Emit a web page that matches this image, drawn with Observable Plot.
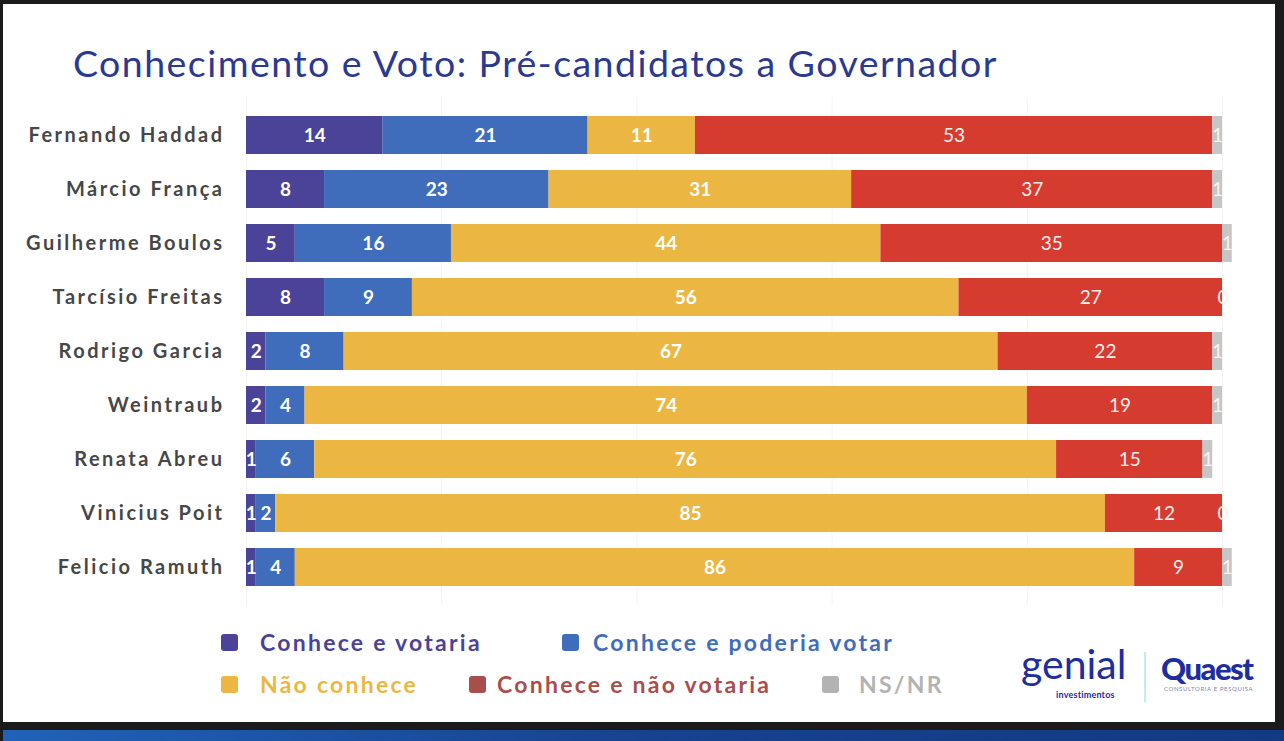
<!DOCTYPE html>
<html lang="pt-BR">
<head>
<meta charset="utf-8">
<title>Conhecimento e Voto: Pré-candidatos a Governador</title>
<script src="https://cdn.jsdelivr.net/npm/d3@7"></script>
<script src="https://cdn.jsdelivr.net/npm/@observablehq/plot@0.6"></script>
<style>
  html, body { margin: 0; padding: 0; }
  body { width: 1284px; height: 741px; background: #1b1b1b; position: relative; overflow: hidden; font-family: Lato, "Noto Sans", sans-serif; }
  .slide { position: absolute; left: 3px; top: 4px; width: 1272px; height: 718px; background: #ffffff; }
  .strip { position: absolute; left: 3px; top: 730px; width: 1281px; height: 11px; background: linear-gradient(90deg, #2062b8, #17428f 50%, #123a82); }
  h1 { position: absolute; left: 73px; top: 40px; margin: 0; font-family: Lato, sans-serif; font-weight: 400; font-size: 37.5px; letter-spacing: 1.45px; color: #2b3a8f; white-space: nowrap; }
  #chart { position: absolute; left: 0; top: 80px; }
  #chart svg { background: transparent; overflow: visible; }
  #chart g[aria-label="y-axis tick label"] text { letter-spacing: 2.5px; }
  .leg-sw { position: absolute; width: 17px; height: 17px; border-radius: 3px; }
  .leg-tx { position: absolute; font-family: Lato, sans-serif; font-weight: 700; font-size: 23px; line-height: 28px; letter-spacing: 2.25px; white-space: nowrap; }
  .logo-genial { position: absolute; left: 1021px; top: 643px; color: #1d2e9e; }
  .logo-genial .g { font-family: Lato, sans-serif; font-size: 41px; font-weight: 400; line-height: 41px; }
  .logo-genial .s { position: absolute; left: 35px; top: 47px; font-size: 9px; line-height: 10px; font-weight: 700; letter-spacing: 0.2px; white-space: nowrap; }
  .sep { position: absolute; left: 1144px; top: 652px; width: 2px; height: 50px; background: #bfeef0; }
  .logo-quaest { position: absolute; left: 1161px; top: 651px; color: #1d2e9e; }
  .logo-quaest .q { font-family: Lato, sans-serif; font-size: 31px; font-weight: 900; letter-spacing: -1.5px; line-height: 34px; }
  .logo-quaest .s { font-size: 6px; color: #7d86b5; letter-spacing: 0.6px; margin-left: 3px; white-space: nowrap; }
</style>
</head>
<body>
<div class="slide"></div>
<div class="strip"></div>
<h1>Conhecimento e Voto: Pré-candidatos a Governador</h1>
<div id="chart"></div>
<div id="legend"></div>
<div class="logo-genial"><div class="g">genial</div><div class="s">investimentos</div></div>
<div class="sep"></div>
<div class="logo-quaest"><div class="q">Quaest</div><div class="s">CONSULTORIA E PESQUISA</div></div>
<script>
// Pré-candidatos, na ordem em que aparecem
const candidatos = [
  "Fernando Haddad", "Márcio França", "Guilherme Boulos", "Tarcísio Freitas",
  "Rodrigo Garcia", "Weintraub", "Renata Abreu", "Vinicius Poit", "Felicio Ramuth"
];

// Percentuais por categoria (mesma ordem dos candidatos)
const conheceVotaria     = [14,  8,  5,  8,  2,  2,  1,  1,  1];
const conhecePoderia     = [21, 23, 16,  9,  8,  4,  6,  2,  4];
const naoConhece         = [11, 31, 44, 56, 67, 74, 76, 85, 86];
const conheceNaoVotaria  = [53, 37, 35, 27, 22, 19, 15, 12,  9];
const nsNr               = [ 1,  1,  1,  0,  1,  1,  1,  0,  1];

const categorias = ["Conhece e votaria", "Conhece e poderia votar", "Não conhece", "Conhece e não votaria", "NS/NR"];
const coresBarra = ["#4b4397", "#3f6dbc", "#ebb742", "#d63b30", "#c6c6c6"];
const coresLegenda = ["#4b4397", "#3f6dbc", "#ebb742", "#a84f4d", "#b3b3b3"];
const series = [conheceVotaria, conhecePoderia, naoConhece, conheceNaoVotaria, nsNr];

// Tabela longa: uma linha por candidato e categoria
const linhas = [];
candidatos.forEach((c, i) => {
  categorias.forEach((cat, j) => linhas.push({candidato: c, categoria: cat, valor: series[j][i]}));
});

const negrito = new Set(categorias.slice(0, 3));
const stack = {x: "valor", y: "candidato", z: "categoria", order: categorias};

const chart = Plot.plot({
  width: 1284,
  height: 528,
  marginLeft: 246,
  marginRight: 62,
  marginTop: 17,
  marginBottom: 3,
  style: {fontFamily: "Lato, sans-serif", background: "transparent"},
  x: {domain: [0, 100], axis: null},
  y: {domain: candidatos, padding: 0.3, range: [17, 525], label: null},
  color: {domain: categorias, range: coresBarra},
  marks: [
    Plot.gridX([0, 20, 40, 60, 80, 100], {stroke: "#f3f3f3", strokeOpacity: 1, strokeWidth: 1}),
    Plot.barX(linhas, Plot.stackX({...stack, fill: "categoria", inset: 0})),
    // rótulos em negrito (três primeiras categorias)
    Plot.text(linhas, Plot.stackX({
      ...stack,
      text: d => negrito.has(d.categoria) && d.valor > 0 ? String(d.valor) : null,
      fill: "white", fontWeight: 700, fontSize: 19
    })),
    // rótulos regulares (não votaria e NS/NR)
    Plot.text(linhas, Plot.stackX({
      ...stack,
      text: d => !negrito.has(d.categoria) && d.valor > 0 ? String(d.valor) : null,
      fill: "#fdf0ee", fontWeight: 400, fontSize: 19
    })),
    // valores zero ficam na borda final da barra
    Plot.text(linhas, Plot.stackX({
      ...stack,
      text: d => d.valor === 0 ? "0" : null,
      fill: "#fdf0ee", fontWeight: 400, fontSize: 19, textAnchor: "start", dx: -5
    })),
    Plot.axisY({tickSize: 0, tickPadding: 22, fontSize: 20, fontWeight: 700, fill: "#474747", label: null})
  ]
});
document.getElementById("chart").append(chart);

// Legenda em duas linhas: posição do quadrado e do texto de cada item
const posLegenda = [
  {sw: 221, tx: 260, top: 628}, {sw: 562, tx: 593, top: 628},
  {sw: 221, tx: 260, top: 670}, {sw: 469, tx: 497, top: 670}, {sw: 822, tx: 859, top: 670}
];
const legenda = document.getElementById("legend");
categorias.forEach((cat, j) => {
  const p = posLegenda[j];
  const sw = document.createElement("div");
  sw.className = "leg-sw";
  sw.style.left = p.sw + "px";
  sw.style.top = (p.top + 6) + "px";
  sw.style.background = coresLegenda[j];
  const tx = document.createElement("div");
  tx.className = "leg-tx";
  tx.style.left = p.tx + "px";
  tx.style.top = p.top + "px";
  tx.style.color = coresLegenda[j];
  tx.textContent = cat;
  legenda.append(sw, tx);
});
</script>
</body>
</html>
